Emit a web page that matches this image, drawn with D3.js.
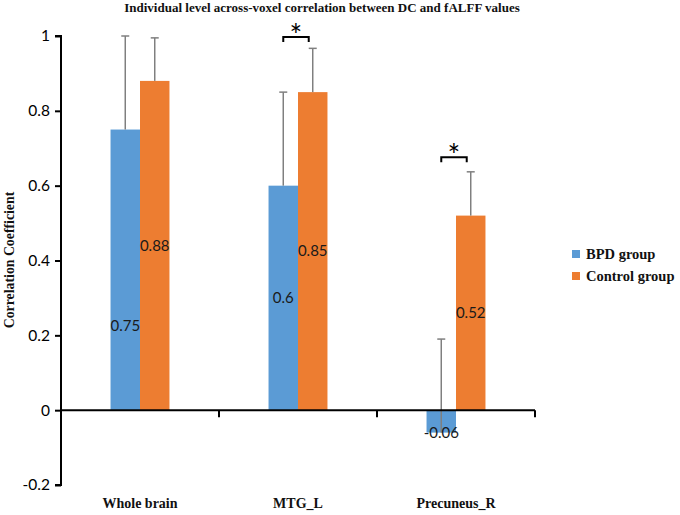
<!DOCTYPE html>
<html>
<head>
<meta charset="utf-8">
<script src="https://cdn.jsdelivr.net/npm/d3@7"></script>
<style>
  body { margin: 0; background: #fff; }
  svg { display: block; }
  .serif { font-family: "Liberation Serif", "Times New Roman", Times, "DejaVu Serif", serif; font-weight: bold; }
</style>
</head>
<body>
<svg id="chart" width="680" height="515"></svg>
<script>
// data
const categories = ["Whole brain", "MTG_L", "Precuneus_R"];
const groups = ["BPD group", "Control group"];
const bpdValues = [0.75, 0.6, -0.06];
const controlValues = [0.88, 0.85, 0.52];
const bpdErrors = [0.25, 0.25, 0.25];
const controlErrors = [0.115, 0.117, 0.117];
const yTicks = [-0.2, 0, 0.2, 0.4, 0.6, 0.8, 1];
// significance marks: category, height of bracket (in correlation units)
const sigCategories = ["MTG_L", "Precuneus_R"];
const sigLevels = [0.997, 0.676];

const colors = ["#5B9BD5", "#ED7D31"];
const sans = "Lato, 'Open Sans', sans-serif";

const svg = d3.select("#chart");

const x0 = d3.scaleBand()
    .domain(categories)
    .range([61, 535])
    .paddingInner(0.627)
    .paddingOuter(0.3135);

const x1 = d3.scaleBand()
    .domain(groups)
    .range([0, x0.bandwidth()]);

const y = d3.scaleLinear()
    .domain([-0.2, 1])
    .range([485, 36]);

// rows for bars
const rows = [];
categories.forEach((c, i) => {
    rows.push({ cat: c, group: groups[0], value: bpdValues[i], err: bpdErrors[i], gi: 0 });
    rows.push({ cat: c, group: groups[1], value: controlValues[i], err: controlErrors[i], gi: 1 });
});

// title
svg.append("text")
    .attr("class", "serif")
    .attr("x", 322)
    .attr("y", 12)
    .attr("text-anchor", "middle")
    .attr("font-size", 13)
    .attr("fill", "#111")
    .text("Individual level across-voxel correlation between DC and fALFF values");

// bars
svg.append("g")
    .selectAll("rect")
    .data(rows)
    .enter().append("rect")
    .attr("x", d => x0(d.cat) + x1(d.group))
    .attr("y", d => y(Math.max(0, d.value)))
    .attr("width", x1.bandwidth())
    .attr("height", d => Math.abs(y(d.value) - y(0)))
    .attr("fill", d => colors[d.gi]);

// error bars (plus direction only)
const eb = svg.append("g")
    .attr("stroke", "#7f7f7f")
    .attr("stroke-width", 1.5)
    .selectAll("g")
    .data(rows)
    .enter().append("g")
    .attr("transform", d => `translate(${x0(d.cat) + x1(d.group) + x1.bandwidth() / 2},0)`);

eb.append("line")
    .attr("x1", 0).attr("x2", 0)
    .attr("y1", d => y(d.value))
    .attr("y2", d => y(d.value + d.err));

eb.append("line")
    .attr("x1", -4).attr("x2", 4)
    .attr("y1", d => y(d.value + d.err))
    .attr("y2", d => y(d.value + d.err));

// y axis
const yAxis = svg.append("g")
    .attr("transform", "translate(61,0)")
    .call(d3.axisLeft(y).tickValues(yTicks).tickSize(6).tickPadding(5)
        .tickFormat(d => String(Math.round(d * 10) / 10)));
yAxis.select(".domain").attr("stroke", "#000").attr("stroke-width", 2).attr("d", `M-6,${y(-0.2)}H0V${y(1)}H-6`);
yAxis.selectAll(".tick line").attr("stroke", "#000").attr("stroke-width", 2);
yAxis.selectAll(".tick text")
    .attr("font-family", sans)
    .attr("font-size", 15.5)
    .attr("fill", "#000");

// x axis at zero
const boundaries = categories.map(c => x0(c) + x0.bandwidth() + x0.step() * x0.paddingInner() / 2);
const xAxis = svg.append("g");
xAxis.append("line")
    .attr("x1", 61).attr("x2", 535)
    .attr("y1", y(0)).attr("y2", y(0))
    .attr("stroke", "#000").attr("stroke-width", 2);
xAxis.selectAll("line.tk")
    .data(boundaries)
    .enter().append("line")
    .attr("class", "tk")
    .attr("x1", d => d).attr("x2", d => d)
    .attr("y1", y(0)).attr("y2", y(0) + 7)
    .attr("stroke", "#000").attr("stroke-width", 2);

// category labels
svg.append("g")
    .selectAll("text")
    .data(categories)
    .enter().append("text")
    .attr("class", "serif")
    .attr("x", d => x0(d) + x0.bandwidth() / 2)
    .attr("y", 508)
    .attr("text-anchor", "middle")
    .attr("font-size", 14)
    .attr("fill", "#111")
    .text(d => d);

// y axis title
svg.append("text")
    .attr("class", "serif")
    .attr("transform", `translate(14,260) rotate(-90)`)
    .attr("text-anchor", "middle")
    .attr("font-size", 13.8)
    .attr("fill", "#111")
    .text("Correlation Coefficient");

// value labels: centred in bar; negative bars get it at the bar end,
// the Whole brain BPD label was moved down in the original
svg.append("g")
    .selectAll("text")
    .data(rows)
    .enter().append("text")
    .attr("x", d => x0(d.cat) + x1(d.group) + x1.bandwidth() / 2)
    .attr("y", d => {
        if (d.value < 0) return y(d.value);
        if (d.cat === "Whole brain" && d.gi === 0) return y(d.value * 0.3);
        return y(d.value / 2);
    })
    .attr("dy", "0.35em")
    .attr("text-anchor", "middle")
    .attr("font-family", sans)
    .attr("font-size", 15)
    .attr("fill", "#1a1a1a")
    .text(d => String(d.value));

// significance brackets
const sig = svg.append("g");
sigCategories.forEach((c, i) => {
    const xa = x0(c) + x1(groups[0]) + x1.bandwidth() / 2;
    const xb = x0(c) + x1(groups[1]) + x1.bandwidth() / 2 - 4;
    const yy = y(sigLevels[i]);
    sig.append("path")
        .attr("d", `M${xa},${yy + 5}V${yy}H${xb}V${yy + 5}`)
        .attr("fill", "none")
        .attr("stroke", "#000")
        .attr("stroke-width", 2);
    sig.append("text")
        .attr("x", (xa + xb) / 2)
        .attr("y", yy + 9)
        .attr("text-anchor", "middle")
        .attr("font-family", sans)
        .attr("font-size", 30)
        .attr("fill", "#000")
        .text("*");
});

// legend
const legend = svg.append("g")
    .selectAll("g")
    .data(groups)
    .enter().append("g")
    .attr("transform", (d, i) => `translate(572,${250 + i * 22})`);
legend.append("rect")
    .attr("width", 8).attr("height", 8)
    .attr("fill", (d, i) => colors[i]);
legend.append("text")
    .attr("class", "serif")
    .attr("x", 14)
    .attr("y", 8.5)
    .attr("font-size", 14.5)
    .attr("fill", "#111")
    .text(d => d);
</script>
</body>
</html>
